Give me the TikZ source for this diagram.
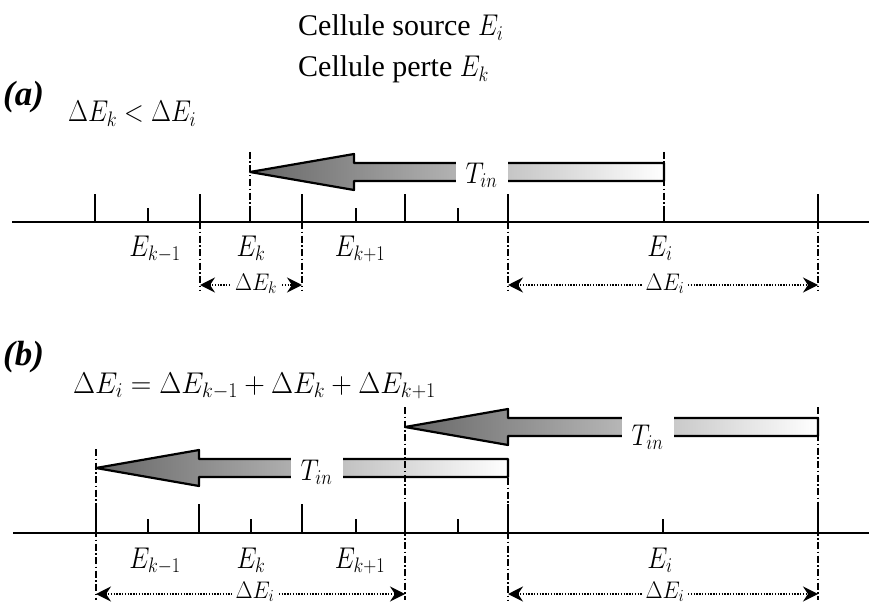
\RequirePackage{fix-cm}
\documentclass[tikz,border=0pt]{standalone}
\usepackage[no-math]{fontspec}
\setmainfont{Liberation Serif}
\usetikzlibrary{arrows.meta}
\newcommand{\hs}[2][0.86]{\scalebox{#1}[1]{#2}}
\tikzset{
  axisline/.style={line width=2.8pt},
  tickline/.style={line width=2.2pt},
  dashdot/.style={line width=1.2pt, dash pattern=on 7pt off 2.5pt on 1.5pt off 2.5pt},
  dimline/.style={line width=2.2pt, dash pattern=on 1.4pt off 1.4pt,
    {Stealth[length=15pt,width=15pt,inset=5pt]}-{Stealth[length=15pt,width=15pt,inset=5pt]}},
  tinarrow/.style={draw, line width=2.2pt, line join=round, left color=black!60, right color=white},
  tinlabel/.style={font=\fontsize{30}{35}\selectfont, fill=white, anchor=base,
    inner xsep=0pt, inner ysep=9pt, minimum width=52pt},
  mlab/.style={font=\fontsize{30}{35}\selectfont, inner sep=0pt, anchor=base},
  txt/.style={font=\fontsize{30}{36}\selectfont, inner sep=0pt, anchor=base west},
  lab/.style={font=\fontsize{35}{42}\selectfont\bfseries\itshape, inner sep=0pt, anchor=base west},
  dlab/.style={font=\fontsize{24}{28}\selectfont, fill=white, inner sep=4pt, anchor=base},
}
\begin{document}
\begin{tikzpicture}[x=1pt,y=-1pt]
\useasboundingbox (0,0) rectangle (869,604);

% ---------- header ----------
\node[txt] (h1) at (298,36) {Cellule source \hs{$E_i$}};
\node[txt] (h2) at (298,77) {Cellule perte \hs{$E_k$}};

% ---------- panel (a) ----------
\node[lab] (la) at (3,106) {(a)};
\node[mlab, anchor=base west] (ca) at (68,122) {\hs{$\Delta E_k < \Delta E_i$}};

% arrow
\shadedraw[tinarrow] (250,172) -- (354,154) -- (354,163) -- (664,163) -- (664,181)
   -- (354,181) -- (354,190) -- cycle;
\node[tinlabel] (ta) at (481.5,183) {\hs{$T_{in}$}};

% axis
\coordinate (a0) at (12,222); \coordinate (a1) at (869,222);
\draw[axisline] (a0) -- (a1);

% dash-dot guides
\draw[dashdot] (250,152) -- (250,222);
\draw[dashdot] (664,152) -- (664,222);
\foreach \x in {200,302,508,818} \draw[dashdot] (\x,222) -- (\x,291);

% ticks
\foreach \x in {95,200,302,405,508,818} \draw[tickline] (\x,222) -- ++(0,-28);
\foreach \x in {148,250,356,458,664} \draw[tickline] (\x,222) -- ++(0,-14);

% labels
\node[mlab] (ea1) at (155,256) {\hs{$E_{k-1}$}};
\node[mlab] (ea2) at (251,256) {\hs{$E_k$}};
\node[mlab] (ea3) at (360,256) {\hs{$E_{k+1}$}};
\node[mlab] (ea4) at (660,256) {\hs{$E_i$}};

% dimensions
\coordinate (dal1) at (200,285); \coordinate (dar1) at (302,285);
\coordinate (dal2) at (508,285); \coordinate (dar2) at (818,285);
\draw[dimline] (dal1) -- (dar1);
\draw[dimline] (dal2) -- (dar2);
\node[dlab] (dka) at (256,290) {\hs[0.92]{$\Delta E_k$}};
\node[dlab] (dia) at (665,290) {\hs[0.92]{$\Delta E_i$}};

% ---------- panel (b) ----------
\node[lab] (lb) at (3,365) {(b)};
\node[mlab, anchor=base west] (cb) at (73,393) {\hs[0.95]{$\Delta E_i = \Delta E_{k-1} + \Delta E_k + \Delta E_{k+1}$}};

% upper arrow
\shadedraw[tinarrow] (405,427) -- (508,409) -- (508,418) -- (818,418) -- (818,436)
   -- (508,436) -- (508,445) -- cycle;
\node[tinlabel] (tb1) at (647.5,445) {\hs{$T_{in}$}};

% lower arrow
\shadedraw[tinarrow] (96,468) -- (199,450) -- (199,459) -- (508,459) -- (508,477)
   -- (199,477) -- (199,486) -- cycle;
\node[tinlabel] (tb2) at (316.5,480) {\hs{$T_{in}$}};

% axis
\coordinate (b0) at (13,533); \coordinate (b1) at (869,533);
\draw[axisline] (b0) -- (b1);

% dash-dot guides
\draw[dashdot] (96,449) -- (96,600);
\draw[dashdot] (405,407) -- (405,600);
\draw[dashdot] (508,478) -- (508,600);
\draw[dashdot] (818,407) -- (818,600);

% ticks
\foreach \x in {96,199,302,405,508,818} \draw[tickline] (\x,533) -- ++(0,-29);
\foreach \x in {148,251,356,458,663} \draw[tickline] (\x,533) -- ++(0,-14);

% labels
\node[mlab] (eb1) at (155,568) {\hs{$E_{k-1}$}};
\node[mlab] (eb2) at (251,568) {\hs{$E_k$}};
\node[mlab] (eb3) at (360,568) {\hs{$E_{k+1}$}};
\node[mlab] (eb4) at (660,568) {\hs{$E_i$}};

% dimensions
\coordinate (dbl1) at (96,594); \coordinate (dbr1) at (405,594);
\coordinate (dbl2) at (508,594); \coordinate (dbr2) at (818,594);
\draw[dimline] (dbl1) -- (dbr1);
\draw[dimline] (dbl2) -- (dbr2);
\node[dlab] (dib1) at (255,598) {\hs[0.92]{$\Delta E_i$}};
\node[dlab] (dib2) at (665,598) {\hs[0.92]{$\Delta E_i$}};
\end{tikzpicture}
\end{document}
